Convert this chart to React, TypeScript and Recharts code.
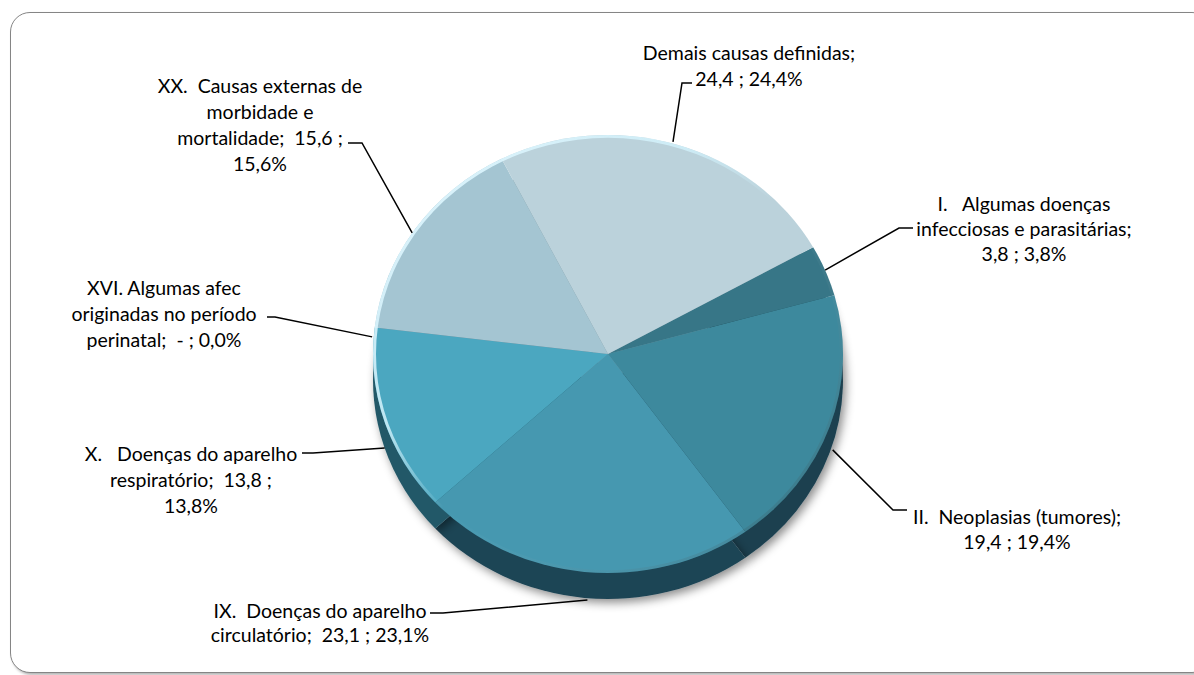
import { Pie, PieChart, Cell } from "recharts";

const CATEGORIES = [
  "I. Algumas doenças infecciosas e parasitárias",
  "II. Neoplasias (tumores)",
  "IX. Doenças do aparelho circulatório",
  "X. Doenças do aparelho respiratório",
  "XVI. Algumas afec originadas no período perinatal",
  "XX. Causas externas de morbidade e mortalidade",
  "Demais causas definidas",
];
const VALUES = [3.8, 19.4, 23.1, 13.8, 0, 15.6, 24.4];
const VALUE_LABELS = ["3,8", "19,4", "23,1", "13,8", "-", "15,6", "24,4"];

const FACE_COLORS = ["#377687", "#3d899d", "#4698b0", "#4ba7c0", "#4ba7c0", "#a4c5d2", "#bbd2db"];
const SIDE_COLORS = ["#1d4450", "#1c4150", "#1e4454", "#245868", "#245868", "#5d7f8c", "#6d8d99"];

const TOTAL = VALUES.reduce((s, v) => s + v, 0);
const pct = (v: number) => ((v / TOTAL) * 100).toFixed(1).replace(".", ",") + "%";

// wrapped label text, same breaks as the original
const LABEL_LINES = [
  ["I.   Algumas doenças", "infecciosas e parasitárias;", `${VALUE_LABELS[0]} ; ${pct(VALUES[0])}`],
  ["II.  Neoplasias (tumores);", `${VALUE_LABELS[1]} ; ${pct(VALUES[1])}`],
  ["IX.  Doenças do aparelho", `circulatório;  ${VALUE_LABELS[2]} ; ${pct(VALUES[2])}`],
  ["X.   Doenças do aparelho", `respiratório;  ${VALUE_LABELS[3]} ;`, pct(VALUES[3])],
  ["XVI. Algumas afec", "originadas no período", `perinatal;  ${VALUE_LABELS[4]} ; ${pct(VALUES[4])}`],
  ["XX.  Causas externas de", "morbidade e", `mortalidade;  ${VALUE_LABELS[5]} ;`, pct(VALUES[5])],
  ["Demais causas definidas;", `${VALUE_LABELS[6]} ; ${pct(VALUES[6])}`],
];

// label placement (layout only)
const LABEL_POS = [
  { x: 1024, y: 203, gap: 25, deg: -22.5, off: 0, elbow: [899, 228], end: [913, 228] },
  { x: 1017, y: 516, gap: 25, deg: 21.8, off: 7, elbow: [893, 510], end: [907, 510] },
  { x: 320, y: 610, gap: 24, deg: 94.9, off: 6, elbow: [443, 613], end: [430, 613] },
  { x: 191, y: 453, gap: 26, deg: 158.5, off: 5, elbow: [313, 453], end: [302, 453] },
  { x: 164, y: 287, gap: 26, deg: 185.6, off: 2, elbow: [275, 317], end: [267, 317] },
  { x: 260, y: 85, gap: 26, deg: 213, off: -1.5, elbow: [362, 143], end: [348, 143] },
  { x: 749, y: 52, gap: 26, deg: -73.4, off: -7.5, elbow: [682, 83], end: [692, 83] },
];

const data = CATEGORIES.map((name, i) => ({ name, value: VALUES[i] }));

const CX = 608;
const CY = 360; // apex, used for leader lines
const FACE_CY = 354;
const R = 235;
const SQUASH = 0.932;
const DEPTH = 26;
const START = 29.2;

const renderLabel = (props: any) => {
  const { cx, cy, outerRadius, index } = props;
  const p = LABEL_POS[index];
  const rad = (p.deg * Math.PI) / 180;
  const ex = cx + (outerRadius + p.off) * Math.cos(rad);
  const ey = cy + (outerRadius + p.off) * Math.sin(rad);
  return (
    <g key={`lbl-${index}`}>
      <polyline
        points={`${ex},${ey} ${p.elbow[0]},${p.elbow[1]} ${p.end[0]},${p.end[1]}`}
        fill="none"
        stroke="#000"
        strokeWidth={1.5}
      />
      <text
        x={p.x}
        y={p.y}
        textAnchor="middle"
        dominantBaseline="central"
        fontFamily="Lato, 'Noto Sans', sans-serif"
        fontSize={19.5}
        fill="#000"
        style={{ whiteSpace: "pre" }}
      >
        {LABEL_LINES[index].map((line, k) => (
          <tspan key={k} x={p.x} y={p.y + k * p.gap}>
            {line}
          </tspan>
        ))}
      </text>
    </g>
  );
};

// the pie className lands on nested elements too, so only the outer one is transformed
const css = `
.squash-face { transform: matrix(1,0,0,${SQUASH},0,${FACE_CY * (1 - SQUASH)}); }
.squash-side { transform: matrix(1,0,0,${SQUASH},0,${(FACE_CY + DEPTH) * (1 - SQUASH)}); }
.squash-face .squash-face, .squash-side .squash-side { transform: none; }
`;

export default function App() {
  return (
    <div
      style={{
        position: "absolute",
        left: 0,
        top: 0,
        width: 1194,
        height: 675,
        overflow: "hidden",
        background: "#fff",
      }}
    >
      <style>{css}</style>
      <div
        style={{
          position: "absolute",
          left: 10,
          top: 12,
          width: 1200,
          height: 659,
          border: "1.5px solid #858585",
          borderRadius: 20,
          boxShadow: "2px 2px 3px rgba(0,0,0,0.3)",
          background: "#fff",
        }}
      />
      <div style={{ position: "absolute", left: 0, top: 0 }}>
        <PieChart width={1194} height={675} margin={{ top: 0, right: 0, bottom: 0, left: 0 }}>
          <defs>
            <filter id="pieShadow" x="-20%" y="-20%" width="140%" height="140%">
              <feDropShadow dx="3" dy="4" stdDeviation="5" floodColor="#000" floodOpacity="0.45" />
            </filter>
            <linearGradient id="rim" x1="0" y1="0" x2="1" y2="1">
              <stop offset="0" stopColor="#e4f8ff" stopOpacity={1} />
              <stop offset="0.35" stopColor="#d0f0fa" stopOpacity={0.85} />
              <stop offset="0.5" stopColor="#d0f0fa" stopOpacity={0} />
              <stop offset="1" stopColor="#000" stopOpacity={0.25} />
            </linearGradient>
          </defs>
          <Pie
            data={data}
            dataKey="value"
            className="squash-side"
            cx={CX}
            cy={FACE_CY + DEPTH}
            outerRadius={R}
            startAngle={START}
            endAngle={START - 360}
            stroke="none"
            isAnimationActive={false}
            style={{ filter: "url(#pieShadow)" }}
          >
            {data.map((_, i) => (
              <Cell key={`side-${i}`} fill={SIDE_COLORS[i]} />
            ))}
          </Pie>
          <Pie
            data={data}
            dataKey="value"
            className="squash-face"
            cx={CX}
            cy={FACE_CY}
            outerRadius={R}
            startAngle={START}
            endAngle={START - 360}
            stroke="none"
            isAnimationActive={false}
          >
            {data.map((_, i) => (
              <Cell key={`face-${i}`} fill={FACE_COLORS[i]} />
            ))}
          </Pie>
          <Pie
            data={[{ name: "rim", value: 1 }]}
            dataKey="value"
            className="squash-face"
            cx={CX}
            cy={FACE_CY}
            innerRadius={R - 3}
            outerRadius={R}
            startAngle={90}
            endAngle={-270}
            stroke="none"
            fill="url(#rim)"
            isAnimationActive={false}
          />
          {/* label layer, unsquashed */}
          <Pie
            data={data}
            dataKey="value"
            cx={CX}
            cy={CY}
            outerRadius={R}
            startAngle={START}
            endAngle={START - 360}
            fill="none"
            stroke="none"
            isAnimationActive={false}
            labelLine={false}
            label={renderLabel}
          />
        </PieChart>
      </div>
    </div>
  );
}
